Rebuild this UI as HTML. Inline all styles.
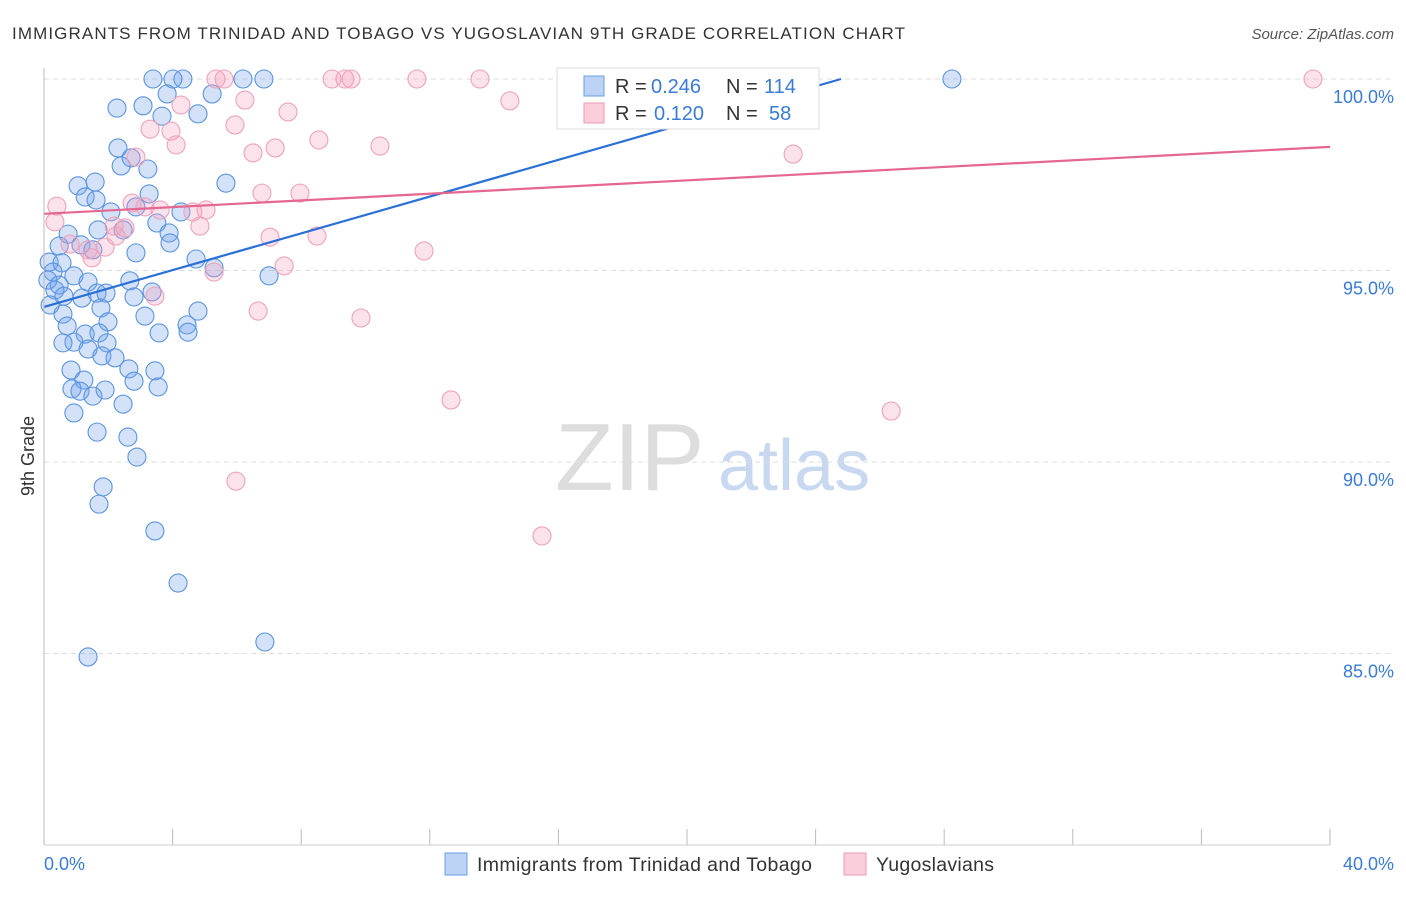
<!DOCTYPE html>
<html><head><meta charset="utf-8"><style>
body{margin:0;background:#fff;font-family:"Liberation Sans",sans-serif}
svg text{font-family:"Liberation Sans",sans-serif}
</style></head><body>
<svg id="c" width="1406" height="892">
<text x="12" y="39" font-size="17" fill="#333" textLength="893">IMMIGRANTS FROM TRINIDAD AND TOBAGO VS YUGOSLAVIAN 9TH GRADE CORRELATION CHART</text>
<text x="1394" y="39" font-size="15" fill="#555" font-style="italic" text-anchor="end">Source: ZipAtlas.com</text>
<text x="34" y="456" font-size="18" fill="#333" transform="rotate(-90 34 456)" text-anchor="middle">9th Grade</text>
<text x="555" y="490" font-size="96" fill="#ddd" font-family="Liberation Serif">ZIP</text>
<text x="718" y="490" font-size="72" fill="#c8d8f0">atlas</text>
<g id="grid"></g><g id="pts"></g><g id="trend"></g>
<line x1="44" y1="68" x2="44" y2="845" stroke="#bbb"/>
<line x1="44" y1="845" x2="1330" y2="845" stroke="#ccc"/>
<text x="44" y="870" font-size="18" fill="#3a7bd5">0.0%</text>
<text x="1394" y="870" font-size="18" fill="#3a7bd5" text-anchor="end">40.0%</text>
<g>
<rect x="557" y="68" width="262" height="61" fill="#fff" stroke="#ddd"/>
<rect x="584" y="76" width="20" height="20" fill="#bcd3f5" stroke="#6a9ce0"/>
<rect x="584" y="103" width="20" height="20" fill="#f9cdd9" stroke="#ea9ab4"/>
<text x="615" y="93" font-size="20" fill="#333">R =</text>
<text x="651" y="93" font-size="20" fill="#3a7bd5">0.246</text>
<text x="726" y="93" font-size="20" fill="#333">N =</text>
<text x="764" y="93" font-size="20" fill="#3a7bd5">114</text>
<text x="615" y="120" font-size="20" fill="#333">R =</text>
<text x="654" y="120" font-size="20" fill="#3a7bd5">0.120</text>
<text x="726" y="120" font-size="20" fill="#333">N =</text>
<text x="769" y="120" font-size="20" fill="#3a7bd5">58</text>
</g>
<g>
<rect x="445" y="853" width="22" height="22" fill="#bcd3f5" stroke="#6a9ce0"/>
<text x="477" y="871" font-size="19.5" fill="#333" textLength="335">Immigrants from Trinidad and Tobago</text>
<rect x="844" y="853" width="22" height="22" fill="#f9cdd9" stroke="#ea9ab4"/>
<text x="876" y="871" font-size="19.5" fill="#333" textLength="118">Yugoslavians</text>
</g>
</svg>
<script>
const yTicks=[100,95,90,85];
const yTickLabels=["100.0%","95.0%","90.0%","85.0%"];
const xTicks=[0,4,8,12,16,20,24,28,32,36,40];
const blueX=[3.39,4.32,4.01,6.19,6.84,28.24,3.83,5.23,2.27,3.08,3.67,4.79,2.30,2.71,3.23,2.40,1.06,1.59,5.66,1.28,3.27,1.62,2.08,2.86,4.26,3.51,2.46,0.75,1.68,3.89,3.92,0.47,1.15,1.52,2.86,4.73,5.29,0.16,0.56,0.28,0.93,0.12,0.47,1.37,2.67,7.00,0.34,0.62,1.65,1.93,1.18,2.80,3.36,0.19,1.77,4.79,0.59,3.14,1.99,0.72,4.45,3.58,4.48,1.28,1.71,0.93,0.59,1.96,1.37,1.80,2.21,0.84,2.64,3.45,1.24,2.80,0.87,1.12,1.90,3.55,1.52,2.46,0.93,1.65,2.61,2.89,1.84,1.71,3.45,4.17,6.87,1.37];
const blueY=[100,100,100,100,100,100,99.61,99.61,99.24,99.30,99.03,99.09,98.20,97.94,97.65,97.73,97.21,97.31,97.28,96.92,97.00,96.84,96.53,96.66,96.53,96.24,96.06,95.95,96.06,95.98,95.72,95.64,95.67,95.54,95.46,95.30,95.07,95.22,95.20,94.96,94.86,94.75,94.62,94.70,94.73,94.86,94.49,94.33,94.41,94.41,94.28,94.31,94.44,94.10,94.02,93.94,93.86,93.81,93.66,93.55,93.58,93.37,93.39,93.34,93.37,93.13,93.11,93.11,92.95,92.77,92.72,92.40,92.43,92.38,92.14,92.11,91.91,91.85,91.88,91.96,91.72,91.51,91.28,90.78,90.65,90.13,89.35,88.90,88.20,86.84,85.30,84.91];
const pinkX=[5.35,5.60,8.96,9.36,9.55,11.60,13.56,20.56,20.50,39.47,4.26,6.25,7.59,14.49,3.30,3.95,4.11,5.94,8.55,10.45,2.86,6.50,7.19,23.30,6.78,7.96,2.74,0.40,3.61,4.63,5.04,3.14,0.34,2.18,2.52,2.24,4.85,7.03,8.49,0.81,1.37,1.90,1.49,11.82,5.29,7.47,3.45,6.66,9.86,12.66,26.35,5.97,15.49];
const pinkY=[100,100,100,100,100,100,100,100,100,100,99.32,99.45,99.14,99.43,98.69,98.64,98.28,98.80,98.41,98.25,97.96,98.07,98.20,98.04,97.02,97.02,96.76,96.68,96.58,96.53,96.58,96.66,96.27,96.16,96.11,95.90,96.16,95.87,95.90,95.69,95.54,95.61,95.33,95.51,94.96,95.12,94.33,93.94,93.76,91.62,91.33,89.50,88.07];
const blueTrend=[94.05,0.240];
const pinkTrend=[96.48,0.0437];
const X=v=>44+v*32.15, Y=v=>79+(100-v)*38.3;
const NS="http://www.w3.org/2000/svg";
function mk(t,a,p){const e=document.createElementNS(NS,t);for(const k in a)e.setAttribute(k,a[k]);p.appendChild(e);return e;}
const grid=document.getElementById('grid'),pts=document.getElementById('pts'),tr=document.getElementById('trend');
yTicks.forEach((t,i)=>{
 const l=mk('line',{x1:44,x2:1394,y1:Y(t),y2:Y(t),stroke:'#ddd','stroke-dasharray':'5,4'},grid);
 
 
 const tx=mk('text',{x:1394,y:Y(t)+24,'font-size':18,fill:'#3a7bd5','text-anchor':'end'},grid);tx.textContent=yTickLabels[i];
 
 
});
xTicks.forEach(t=>{
 const l=mk('line',{x1:X(t),x2:X(t),y1:829,y2:845,stroke:'#bbb'},grid);
 
 
});
blueX.forEach((v,i)=>{
 const c=mk('circle',{cx:X(v),cy:Y(blueY[i]),r:9,fill:'rgba(110,160,235,0.3)',stroke:'#5a94e0','stroke-width':1.1},pts);
 
 
});
pinkX.forEach((v,i)=>{
 const c=mk('circle',{cx:X(v),cy:Y(pinkY[i]),r:9,fill:'rgba(245,160,190,0.3)',stroke:'#eda2bb','stroke-width':1.1},pts);
 
 
});
const bx2=(100-blueTrend[0])/blueTrend[1];
const bl=mk('line',{x1:X(0),y1:Y(blueTrend[0]),x2:X(bx2),y2:Y(100),stroke:'#2a6fd6','stroke-width':2.2},tr);


const pl=mk('line',{x1:X(0),y1:Y(pinkTrend[0]),x2:X(40),y2:Y(pinkTrend[0]+40*pinkTrend[1]),stroke:'#e5668f','stroke-width':2.2},tr);


</script>
</body></html>
